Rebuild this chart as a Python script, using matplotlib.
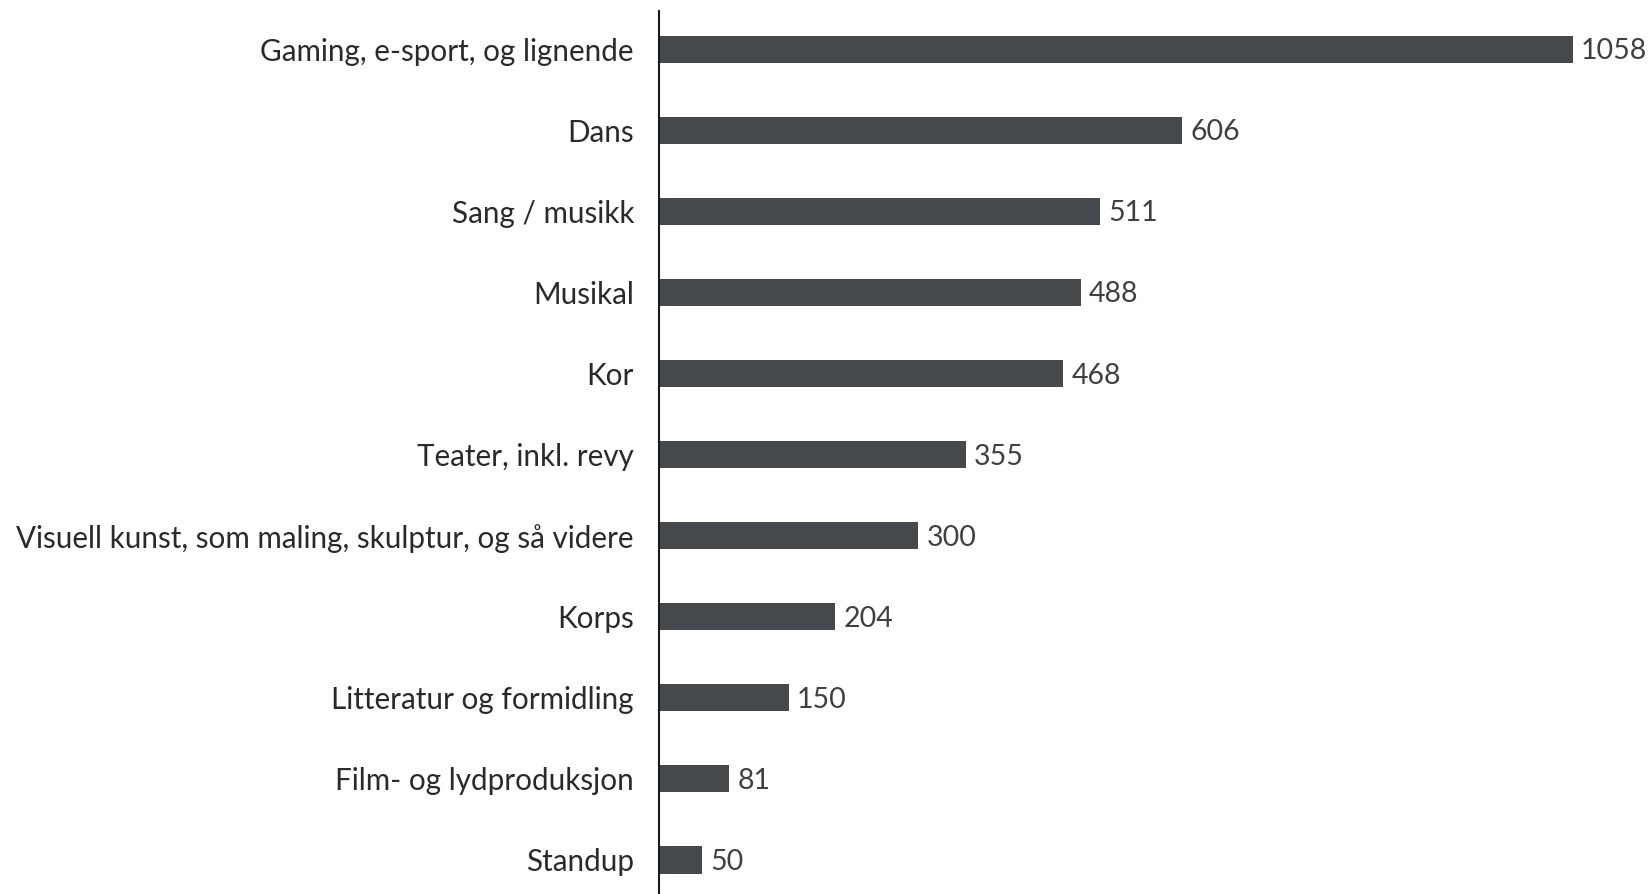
import matplotlib
matplotlib.use("Agg")
import matplotlib.pyplot as plt

categories = [
    "Gaming, e-sport, og lignende",
    "Dans",
    "Sang / musikk",
    "Musikal",
    "Kor",
    "Teater, inkl. revy",
    "Visuell kunst, som maling, skulptur, og så videre",
    "Korps",
    "Litteratur og formidling",
    "Film- og lydproduksjon",
    "Standup",
]
values = [1058, 606, 511, 488, 468, 355, 300, 204, 150, 81, 50]

plt.rcParams['font.family'] = ['Lato', 'DejaVu Sans']

W, H = 1648, 894
fig = plt.figure(figsize=(W / 100, H / 100), dpi=100)
ax_left = 659 / W
ax_top = 11 / H
ax = fig.add_axes([ax_left, 0.0, 1 - ax_left, 1 - ax_top])

bar_color = "#45494b"
pos = list(range(len(categories)))
ax.barh(pos, values, height=0.335, color=bar_color, zorder=2)
ax.set_ylim(len(categories) - 1 + 0.42, -0.47)
ax.set_xlim(0, 1145)

for y, v in zip(pos, values):
    ax.annotate(str(v), xy=(v, y), xytext=(6, -1.5), textcoords="offset points",
                ha="left", va="center", fontsize=20.5, color="#404040")

ax.set_yticks(pos)
ax.set_yticklabels(categories, fontsize=21.3, color="#2a2a2a")
ax.tick_params(axis="y", length=0, pad=18)
ax.set_xticks([])
for s in ["top", "right", "bottom"]:
    ax.spines[s].set_visible(False)
ax.spines["left"].set_color("#1a1a1a")
ax.spines["left"].set_linewidth(1.5)

fig.savefig("out.png", dpi=100, facecolor="white")
